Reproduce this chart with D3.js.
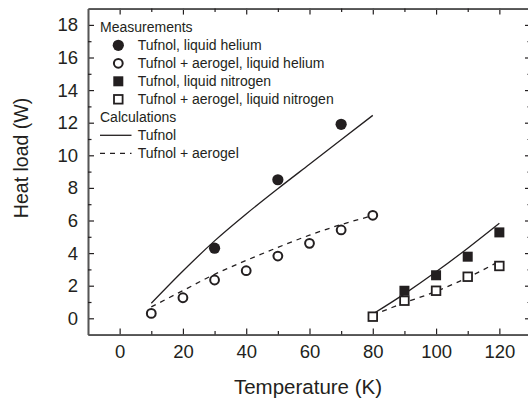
<!DOCTYPE html>
<html><head><meta charset="utf-8">
<script src="https://cdn.jsdelivr.net/npm/d3@7"></script>
<style>body{margin:0;background:#fff}svg{display:block}text{font-family:"Liberation Sans",Arial,Helvetica,sans-serif;fill:#231f20}</style>
</head><body><svg id="c" width="528" height="403"></svg>
<script>
// Measurements
const heTufnolT = [30, 50, 70];
const heTufnol = [4.3, 8.5, 11.9];
const heAeroT = [10, 20, 30, 40, 50, 60, 70, 80];
const heAero = [0.3, 1.26, 2.35, 2.92, 3.82, 4.6, 5.42, 6.32];
const n2TufnolT = [90, 100, 110, 120];
const n2Tufnol = [1.69, 2.64, 3.78, 5.27];
const n2AeroT = [80, 90, 100, 110, 120];
const n2Aero = [0.1, 1.08, 1.69, 2.55, 3.21];
// Calculations
const calcHeT = [10, 20, 30, 40, 50, 60, 70, 80];
const calcHeTufnol = [0.92, 2.9, 4.75, 6.4, 7.95, 9.45, 10.95, 12.45];
const calcHeAero = [0.7, 1.7, 2.7, 3.55, 4.35, 5.1, 5.75, 6.3];
const calcN2T = [80, 90, 100, 110, 120];
const calcN2Tufnol = [0.26, 1.5, 2.85, 4.3, 5.83];
const calcN2Aero = [0.2, 0.95, 1.65, 2.5, 3.5];
// Ticks
const xTicks = [0, 20, 40, 60, 80, 100, 120];
const xMinor = [10, 30, 50, 70, 90, 110];
const yTicks = [0, 2, 4, 6, 8, 10, 12, 14, 16, 18];
const yMinor = [1, 3, 5, 7, 9, 11, 13, 15, 17];
const legendItems = [
  {type: "head", label: "Measurements"},
  {type: "fcircle", label: "Tufnol, liquid helium"},
  {type: "ocircle", label: "Tufnol + aerogel, liquid helium"},
  {type: "fsquare", label: "Tufnol, liquid nitrogen"},
  {type: "osquare", label: "Tufnol + aerogel, liquid nitrogen"},
  {type: "head", label: "Calculations"},
  {type: "solid", label: "Tufnol"},
  {type: "dash", label: "Tufnol + aerogel"}
];

const svg = d3.select("#c");
const L = 88, R = 531, T = 8.6, B = 334.6;
const x = d3.scaleLinear().domain([-10, 130]).range([L, R]);
const y = d3.scaleLinear().domain([-1, 19]).range([B, T]);
const ink = "#231f20";

function axis(gen, tr, major, minor, labels) {
  const g1 = svg.append("g").attr("transform", tr)
    .call(gen.tickValues(major).tickSizeInner(-6).tickSizeOuter(0).tickPadding(labels ? 10 : 0).tickFormat(labels ? d3.format("d") : ""));
  const g2 = svg.append("g").attr("transform", tr)
    .call(gen.tickValues(minor).tickSizeInner(-3.5).tickSizeOuter(0).tickFormat(""));
  [g1, g2].forEach(g => {
    g.select(".domain").attr("stroke", "#555").attr("stroke-width", 1.6);
    g.selectAll(".tick line").attr("stroke", ink).attr("stroke-width", 1.2);
    g.selectAll("text").style("font-size", "18.5px").attr("fill", ink);
  });
}
axis(d3.axisBottom(x), `translate(0,${B})`, xTicks, xMinor, true);
axis(d3.axisTop(x), `translate(0,${T})`, xTicks, xMinor, false);
axis(d3.axisLeft(y), `translate(${L},0)`, yTicks, yMinor, true);
axis(d3.axisRight(y), `translate(${R},0)`, yTicks, yMinor, false);

// titles
svg.append("text").attr("x", (L + 528) / 2).attr("y", 394).attr("text-anchor", "middle")
  .style("font-size", "20.5px").text("Temperature (K)");
svg.append("text").attr("transform", "translate(28,158) rotate(-90)").attr("text-anchor", "middle")
  .style("font-size", "19.5px").text("Heat load (W)");

// calc lines
const line = d3.line().x(d => x(d[0])).y(d => y(d[1])).curve(d3.curveMonotoneX);
function drawLine(ts, vs, dashed) {
  svg.append("path").datum(ts.map((t, i) => [t, vs[i]])).attr("d", line)
    .attr("fill", "none").attr("stroke", ink).attr("stroke-width", 1.3)
    .attr("stroke-dasharray", dashed ? "5,5" : null);
}
drawLine(calcHeT, calcHeTufnol, false);
drawLine(calcHeT, calcHeAero, true);
drawLine(calcN2T, calcN2Tufnol, false);
drawLine(calcN2T, calcN2Aero, true);

// markers
function marker(g, type, cx, cy) {
  if (type === "fcircle") g.append("circle").attr("cx", cx).attr("cy", cy).attr("r", 5.6).attr("fill", ink);
  if (type === "ocircle") g.append("circle").attr("cx", cx).attr("cy", cy).attr("r", 4.4).attr("fill", "#fff").attr("stroke", ink).attr("stroke-width", 2);
  if (type === "fsquare") g.append("rect").attr("x", cx - 5).attr("y", cy - 5).attr("width", 10).attr("height", 10).attr("fill", ink);
  if (type === "osquare") g.append("rect").attr("x", cx - 4.3).attr("y", cy - 4.3).attr("width", 8.6).attr("height", 8.6).attr("fill", "#fff").attr("stroke", ink).attr("stroke-width", 1.8);
}
const mg = svg.append("g");
heAeroT.forEach((t, i) => marker(mg, "ocircle", x(t), y(heAero[i])));
heTufnolT.forEach((t, i) => marker(mg, "fcircle", x(t), y(heTufnol[i])));
n2TufnolT.forEach((t, i) => marker(mg, "fsquare", x(t), y(n2Tufnol[i])));
n2AeroT.forEach((t, i) => marker(mg, "osquare", x(t), y(n2Aero[i])));

// legend
const lg = svg.append("g");
legendItems.forEach((it, i) => {
  const cy = 27.3 + i * 18;
  if (it.type === "head") {
    lg.append("text").attr("x", 100).attr("y", cy).attr("dy", "0.36em").style("font-size", "14px").text(it.label);
    return;
  }
  if (it.type === "solid" || it.type === "dash") {
    lg.append("line").attr("x1", 100).attr("x2", 131.5).attr("y1", cy).attr("y2", cy)
      .attr("stroke", ink).attr("stroke-width", 1.3).attr("stroke-dasharray", it.type === "dash" ? "5,5" : null);
  } else {
    marker(lg, it.type, 118.3, cy);
  }
  lg.append("text").attr("x", 137.7).attr("y", cy).attr("dy", "0.36em").style("font-size", "14px").text(it.label);
});
</script></body></html>
